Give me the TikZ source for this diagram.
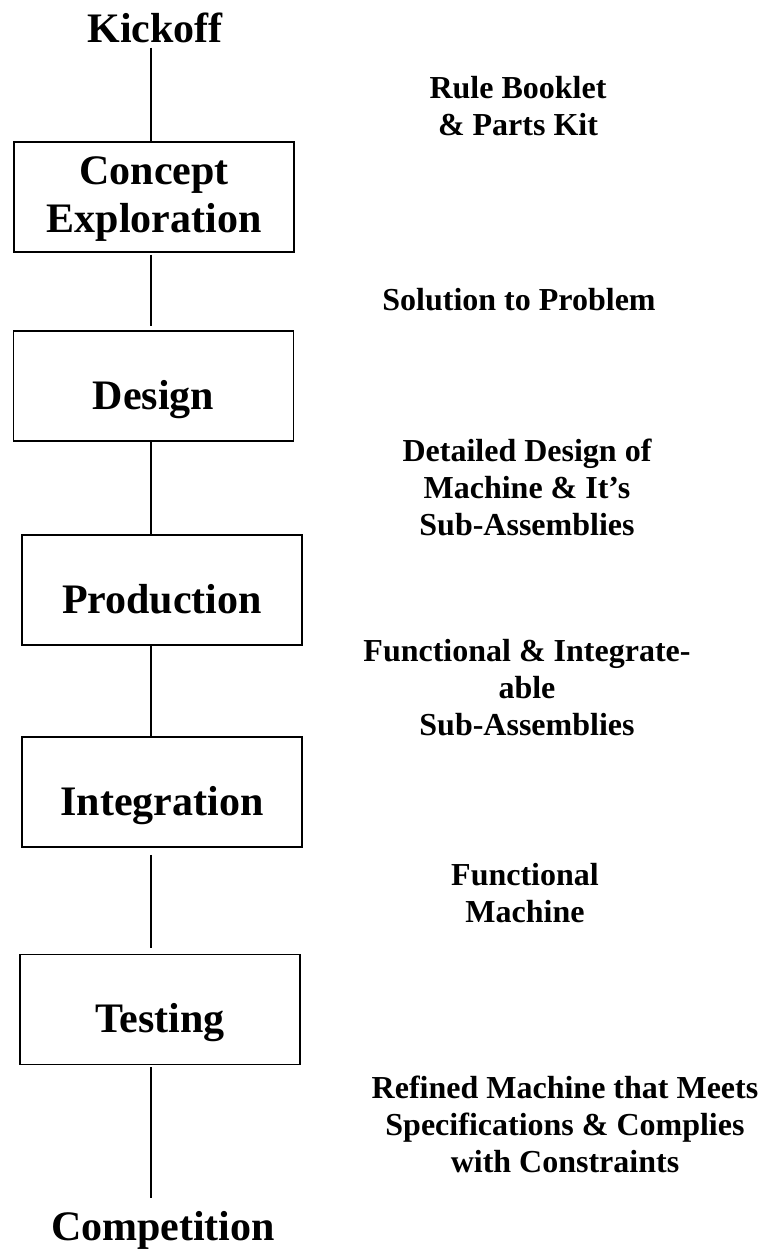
\documentclass[tikz,border=0pt]{standalone}
\usepackage{fontspec}
\setmainfont{Liberation Serif}
\begin{document}
\begin{tikzpicture}[x=1pt,y=-1pt,
  stagebox/.style={draw, line width=1.8pt, minimum width=280pt, minimum height=110pt, inner sep=0pt},
  big/.style={font=\bfseries\fontsize{42}{48}\selectfont, inner sep=0pt, align=center},
  note/.style={font=\bfseries\fontsize{32}{37}\selectfont, inner sep=0pt, align=center, anchor=base},
  link/.style={line width=1.8pt}]
\useasboundingbox (0,0) rectangle (764,1253);

% milestones at both ends
\node[big, anchor=base] (kick) at (155,42) {Kickoff};
\node[big, anchor=base] (comp) at (163,1240) {Competition};

% phase boxes
\node[stagebox] (b1) at (154,197) {};
\node[stagebox] (b2) at (153.5,386) {};
\node[stagebox] (b3) at (162,590) {};
\node[stagebox] (b4) at (162,792) {};
\node[stagebox] (b5) at (160,1009.5) {};

% box titles (base anchor sits on the last line)
\node[big, anchor=base] (t1) at ([yshift=-35pt]b1.center) {Concept\\Exploration};
\node[big, anchor=base] (t2) at ([yshift=-23pt]b2.center) {Design};
\node[big, anchor=base] (t3) at ([yshift=-23pt]b3.center) {Production};
\node[big, anchor=base] (t4) at ([yshift=-23pt]b4.center) {Integration};
\node[big, anchor=base] (t5) at ([yshift=-23pt]b5.center) {Testing};

% vertical spine
\coordinate (spine) at (151,0);
\draw[link, shorten <=5pt] (kick.south -| spine) -- (b1.north -| spine);
\draw[link, shorten <=2pt, shorten >=4pt] (b1.south -| spine) -- (b2.north -| spine);
\draw[link] (b2.south -| spine) -- (b3.north -| spine);
\draw[link] (b3.south -| spine) -- (b4.north -| spine);
\draw[link, shorten <=7pt, shorten >=6pt] (b4.south -| spine) -- (b5.north -| spine);
\draw[link, shorten <=2pt, shorten >=13pt] (b5.south -| spine) -- (comp.north -| spine);

% outputs of each phase
\node[note] (o1) at (518,135) {Rule Booklet\\\& Parts Kit};
\node[note] (o2) at (519,310) {Solution to Problem};
\node[note] (o3) at (527,535) {Detailed Design of\\Machine \& It’s\\Sub-Assemblies};
\node[note] (o4) at (527,735) {Functional \& Integrate-\\able\\Sub-Assemblies};
\node[note] (o5) at (525,922) {Functional\\Machine};
\node[note] (o6) at (565,1172) {Refined Machine that Meets\\Specifications \& Complies\\with Constraints};
\end{tikzpicture}
\end{document}
